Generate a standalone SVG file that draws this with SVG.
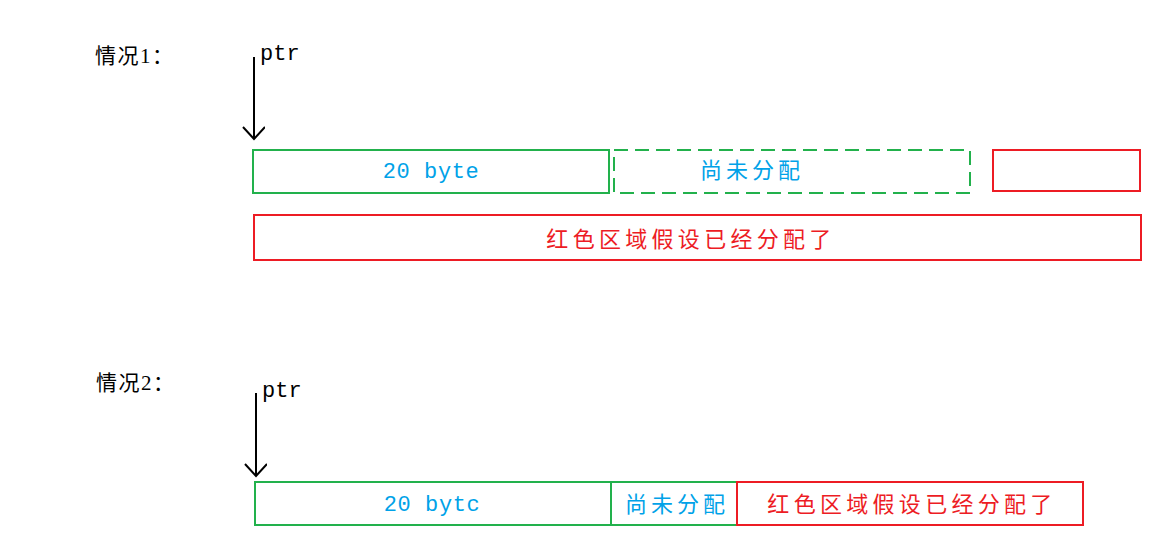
<svg xmlns="http://www.w3.org/2000/svg" width="1158" height="551" viewBox="0 0 1158 551">
<defs>
<marker id="ah" markerWidth="16" markerHeight="24" refX="13" refY="11" orient="auto" markerUnits="userSpaceOnUse">
<path d="M1,0 L13,11 L1,22" fill="none" stroke="#000" stroke-width="2"/>
</marker>
<style>
.lbl{font-family:"Liberation Serif","Noto Sans CJK SC",serif;font-size:21px;fill:#000;letter-spacing:1.5px}
.ptr{font-family:"Liberation Mono",monospace;font-size:22px;fill:#000}
.mono{font-family:"Liberation Mono",monospace;font-size:22px;fill:#00a2e8;letter-spacing:0.6px}
.cjkb{font-family:"Noto Sans CJK SC",sans-serif;font-size:22px;fill:#00a2e8;letter-spacing:4px}
.cjkr{font-family:"Noto Sans CJK SC",sans-serif;font-size:22px;fill:#ed1c24;letter-spacing:4.3px}
.g{fill:#fff;stroke:#22b14c;stroke-width:2}
.gd{fill:#fff;stroke:#22b14c;stroke-width:2;stroke-dasharray:14,7}
.r{fill:#fff;stroke:#ed1c24;stroke-width:2}
.arr{stroke:#000;stroke-width:2;fill:none;marker-end:url(#ah)}
</style>
</defs>
<g id="connectors">
<line class="arr" x1="254" y1="57" x2="254" y2="139"/>
<line class="arr" x1="256" y1="393" x2="256" y2="476"/>
</g>
<g id="case1-label"><text class="lbl" x="95" y="63">情况1<tspan font-family="Noto Sans CJK SC, sans-serif">：</tspan></text></g>
<g id="case1-ptr"><text class="ptr" x="260" y="60">ptr</text></g>
<g id="case1-20byte"><rect class="g" x="253" y="150" width="356" height="43"/><text class="mono" x="431" y="178" text-anchor="middle">20 byte</text></g>
<g id="case1-unalloc"><rect class="gd" x="614" y="150" width="356" height="43"/><text class="cjkb" x="752" y="178" text-anchor="middle">尚未分配</text></g>
<g id="case1-red-small"><rect class="r" x="993" y="150" width="147" height="41"/></g>
<g id="case1-red-big"><rect class="r" x="254" y="215" width="887" height="45"/><text class="cjkr" x="691" y="247" text-anchor="middle">红色区域假设已经分配了</text></g>
<g id="case2-label"><text class="lbl" x="96" y="390">情况2<tspan font-family="Noto Sans CJK SC, sans-serif">：</tspan></text></g>
<g id="case2-ptr"><text class="ptr" x="262" y="397">ptr</text></g>
<g id="case2-20byte"><rect class="g" x="255" y="482" width="356" height="43"/><text class="mono" x="432" y="511" text-anchor="middle">20 bytc</text></g>
<g id="case2-unalloc"><rect class="g" x="611" y="482" width="126" height="43"/><text class="cjkb" x="677" y="512" text-anchor="middle">尚未分配</text></g>
<g id="case2-red"><rect class="r" x="737" y="482" width="346" height="43"/><text class="cjkr" x="912" y="512" text-anchor="middle">红色区域假设已经分配了</text></g>
</svg>
